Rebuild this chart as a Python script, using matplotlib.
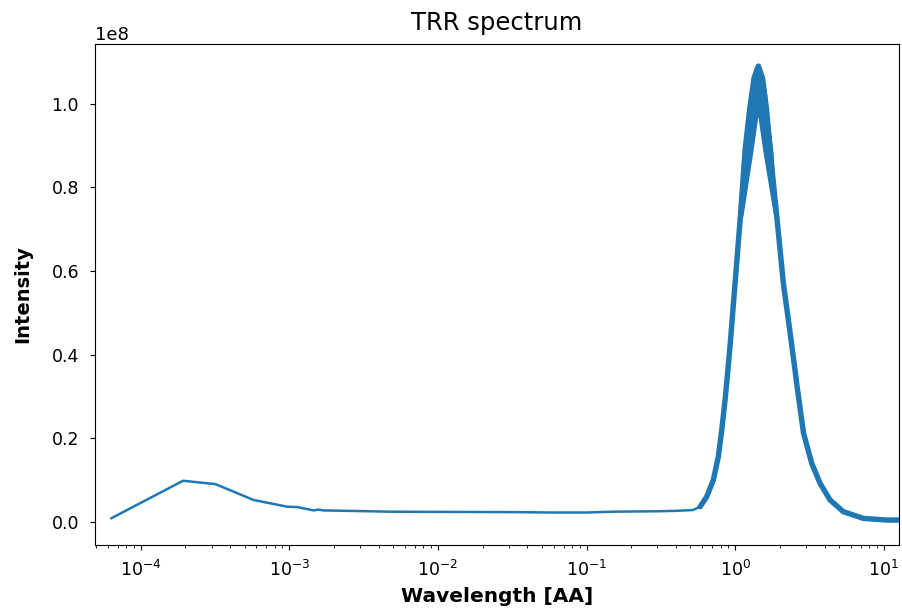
import matplotlib
matplotlib.use("Agg")
import matplotlib.pyplot as plt
import numpy as np

# ---- data (intensity in units of 1e8) ----
SCALE = 1e8

# low-wavelength part and flat background
wl_low = [6.33e-5, 1.93e-4, 3.18e-4, 4.22e-4, 5.75e-4, 7.45e-4, 9.66e-4, 1.13e-3,
          1.46e-3, 1.57e-3, 1.70e-3, 2.85e-3, 4.78e-3, 1.0e-2, 3.0e-2, 6.0e-2,
          1.0e-1, 1.5e-1, 3.0e-1, 4.0e-1]
int_low = [0.008, 0.098, 0.090, 0.072, 0.052, 0.044, 0.036, 0.035,
           0.027, 0.029, 0.027, 0.0256, 0.024, 0.0235, 0.023, 0.022,
           0.022, 0.024, 0.025, 0.026]

# main peak (centre of the noisy band)
wl_peak = [0.521, 0.581, 0.644, 0.713, 0.770, 0.812, 0.855, 0.893, 0.927, 0.998,
           1.084, 1.166, 1.250, 1.340, 1.432, 1.528, 1.626, 1.717, 1.905, 2.110,
           2.377, 2.629, 2.884, 3.273, 3.724, 4.346, 5.342, 7.28, 10.46, 13.9]
int_peak = [0.028, 0.036, 0.060, 0.0998, 0.1555, 0.219, 0.291, 0.363, 0.4275, 0.570,
            0.730, 0.889, 0.985, 1.061, 1.090, 1.061, 0.985, 0.889, 0.730, 0.570,
            0.4347, 0.315, 0.2115, 0.1397, 0.0919, 0.052, 0.024, 0.008, 0.004, 0.004]

# outline of the wide noisy band at the top of the peak
wl_top = [1.090, 1.135, 1.197, 1.240, 1.293, 1.361, 1.471, 1.548, 1.632, 1.690,
          1.810, 1.905, 1.827, 1.548, 1.432, 1.326, 1.137]
int_top = [0.730, 0.885, 0.957, 1.013, 1.061, 1.0885, 1.0926, 1.069, 1.029, 0.973,
           0.885, 0.730, 0.730, 0.885, 0.969, 0.885, 0.730]

color = "#1f77b4"

fig = plt.figure(figsize=(9.02, 6.08), dpi=100)
ax = fig.add_axes([95/902, 1-545/608, (899-95)/902, (545-44)/608])

wl_all = wl_low + wl_peak
int_all = [v * SCALE for v in int_low + int_peak]
ax.plot(wl_all, int_all, color=color, lw=1.8, solid_capstyle="round")
ax.plot(wl_peak[1:], [v * SCALE for v in int_peak[1:]], color=color, lw=3.9,
        solid_capstyle="round")
ax.fill(wl_top, [v * SCALE for v in int_top], color=color, lw=0)

ax.set_xscale("log")
ax.set_xlim(4.934e-5, 12.65)
ax.set_ylim(-0.0557e8, 1.1428e8)

ax.set_title("TRR spectrum", fontsize=17.5, pad=10)
ax.set_xlabel("Wavelength [AA]", fontsize=14.5, fontweight="bold", labelpad=5.5)
ax.set_ylabel("Intensity", fontsize=14, fontweight="bold", labelpad=14)
ax.tick_params(axis="both", which="major", labelsize=12.5)
ax.tick_params(axis="y", which="major", pad=8)
ax.tick_params(axis="x", which="major", pad=7)
ax.yaxis.get_offset_text().set_fontsize(13)

fig.savefig("out.png", dpi=100)
